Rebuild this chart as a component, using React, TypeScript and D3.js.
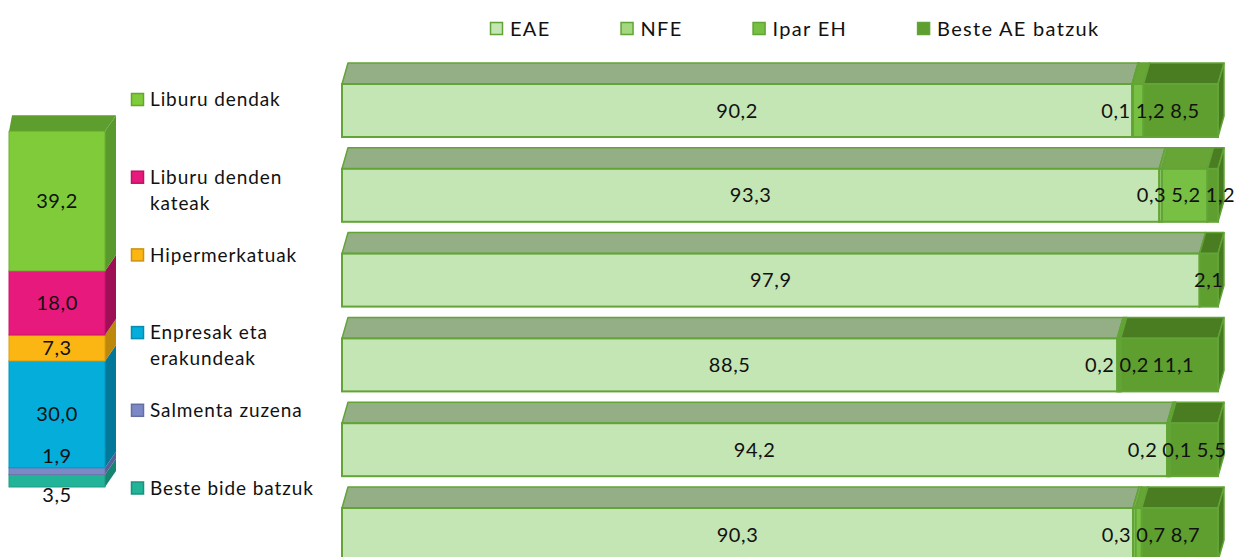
import { useEffect, useRef } from 'react';
import * as d3 from 'd3';

// right chart: share by origin, one 3D bar per row
const origins = ['EAE', 'NFE', 'Ipar EH', 'Beste AE batzuk'];
const rowIds = ['r1', 'r2', 'r3', 'r4', 'r5', 'r6'];
const eae = [90.2, 93.3, 97.9, 88.5, 94.2, 90.3];
const nfe = [0.1, 0.3, 0, 0.2, 0.2, 0.3];
const iparEh = [1.2, 5.2, 0, 0.2, 0.1, 0.7];
const besteAe = [8.5, 1.2, 2.1, 11.1, 5.5, 8.7];

// left chart: sales channels, one stacked column
const channels = ['Liburu dendak', 'Liburu denden kateak', 'Hipermerkatuak', 'Enpresak eta erakundeak', 'Salmenta zuzena', 'Beste bide batzuk'];
const channelShares = [39.2, 18.0, 7.3, 30.0, 1.9, 3.5];

const FONT = 'Lato, "Open Sans", sans-serif';

const originFront = ['#C4E5B4', '#A3D881', '#77C043', '#5E9F2F'];
const originTop = ['#94AE86', '#80AA63', '#66A536', '#4A7D22'];
const originSide = ['#819C73', '#6F9B52', '#5C9431', '#477A20'];
const originStroke = '#62A436';

const channelFront = ['#7FCB3A', '#E8197C', '#FBB614', '#05ADDB', '#7C89C6', '#22B499'];
const channelTop = ['#5E9E2E', '#A8105A', '#C48D0A', '#047A9B', '#56609A', '#168873'];
const channelSide = ['#5A9A2C', '#9E0F55', '#BE880A', '#03789A', '#555F98', '#168470'];

const fmt = (v: number) => v.toFixed(1).replace('.', ',');

// push overlapping labels apart along one axis
function spread(items: { pos: number; size: number }[], gap: number) {
  for (let k = 0; k < 60; k++) {
    let moved = false;
    for (let i = 0; i < items.length - 1; i++) {
      const a = items[i];
      const b = items[i + 1];
      const need = (a.size + b.size) / 2 + gap;
      const d = b.pos - a.pos;
      if (d < need - 0.01) {
        const s = (need - d) / 2;
        a.pos -= s;
        b.pos += s;
        moved = true;
      }
    }
    if (!moved) break;
  }
}

function wrap(label: string, maxChars: number) {
  const words = label.split(' ');
  const lines: string[] = [];
  let cur = '';
  words.forEach((w) => {
    const next = cur ? cur + ' ' + w : w;
    if (next.length > maxChars && cur) {
      lines.push(cur);
      cur = w;
    } else cur = next;
  });
  if (cur) lines.push(cur);
  return lines;
}

export default function App() {
  const svgRef = useRef<SVGSVGElement>(null);

  useEffect(() => {
    const width = 1242;
    const height = 557;
    const svg = d3.select(svgRef.current);
    svg.selectAll('*').remove();
    svg.attr('width', width).attr('height', height).style('font-family', FONT);

    // ---------- right: horizontal 3D stacked bars ----------
    const series = [eae, nfe, iparEh, besteAe];
    const x = d3.scaleLinear().domain([0, 100]).range([342, 1218]);
    const y = d3.scaleBand().domain(rowIds).range([84, 561]).paddingInner(0.375);
    const dx = 6;
    const dy = -21;
    const bars = svg.append('g');

    rowIds.forEach((id, r) => {
      const y0 = y(id) as number;
      const y1 = y0 + y.bandwidth();
      let acc = 0;
      const labels: { pos: number; size: number; text: string }[] = [];
      series.forEach((s, i) => {
        const v = s[r];
        const a = x(acc);
        const b = x(acc + v);
        acc += v;
        if (v <= 0) return;
        const g = bars.append('g');
        g.append('path')
          .attr('d', `M${a},${y0}L${a + dx},${y0 + dy}L${b + dx},${y0 + dy}L${b},${y0}Z`)
          .attr('fill', originTop[i])
          .attr('stroke', originStroke)
          .attr('stroke-width', 1.5)
          .attr('stroke-linejoin', 'round');
        g.append('path')
          .attr('d', `M${b},${y0}L${b + dx},${y0 + dy}L${b + dx},${y1 + dy}L${b},${y1}Z`)
          .attr('fill', originSide[i])
          .attr('stroke', originStroke)
          .attr('stroke-width', 1.5)
          .attr('stroke-linejoin', 'round');
        g.append('rect')
          .attr('x', a)
          .attr('y', y0)
          .attr('width', b - a)
          .attr('height', y1 - y0)
          .attr('fill', originFront[i])
          .attr('stroke', originStroke)
          .attr('stroke-width', 2);
        const text = fmt(v);
        labels.push({ pos: (a + b) / 2, size: text.length * 9.5, text });
      });
      spread(labels, 6);
      labels.forEach((l) => {
        bars.append('text')
          .attr('x', l.pos)
          .attr('y', (y0 + y1) / 2)
          .attr('dy', '0.35em')
          .attr('text-anchor', 'middle')
          .attr('font-size', 20)
          .attr('letter-spacing', 0.6)
          .attr('fill', '#111')
          .text(l.text);
      });
    });

    // ---------- top legend ----------
    const legend = svg.append('g');
    let lx = 490;
    origins.forEach((name, i) => {
      legend.append('rect')
        .attr('x', lx + 0.5)
        .attr('y', 22.5)
        .attr('width', 12)
        .attr('height', 12)
        .attr('fill', originFront[i])
        .attr('stroke', originStroke)
        .attr('stroke-width', 1.5);
      const t = legend.append('text')
        .attr('x', lx + 20)
        .attr('y', 28.5)
        .attr('dy', '0.35em')
        .attr('font-size', 20)
        .attr('letter-spacing', 1.3)
        .attr('fill', '#111')
        .text(name);
      const w = (t.node() as SVGTextElement).getComputedTextLength();
      lx += 20 + w + 70;
    });

    // ---------- left: stacked 3D column ----------
    const yc = d3.scaleLinear().domain([0, 100]).range([487, 131]);
    const cx0 = 9;
    const cx1 = 105;
    const dxL = 3;
    const dxR = 11;
    const dyc = -16;
    const col = svg.append('g');
    // stack from the bottom: last channel sits at the base
    const order = d3.range(channels.length).reverse();
    let base = 0;
    const colLabels: { pos: number; size: number; text: string }[] = [];
    order.forEach((i, k) => {
      const v = channelShares[i];
      const yb = yc(base);
      const yt = yc(base + v);
      base += v;
      col.append('path')
        .attr('d', `M${cx1},${yt}L${cx1 + dxR},${yt + dyc}L${cx1 + dxR},${yb + dyc}L${cx1},${yb}Z`)
        .attr('fill', channelSide[i]);
      if (k === order.length - 1) {
        col.append('path')
          .attr('d', `M${cx0},${yt}L${cx0 + dxL},${yt + dyc}L${cx1 + dxR},${yt + dyc}L${cx1},${yt}Z`)
          .attr('fill', channelTop[i]);
      }
      col.append('rect')
        .attr('x', cx0)
        .attr('y', yt)
        .attr('width', cx1 - cx0)
        .attr('height', yb - yt)
        .attr('fill', channelFront[i])
        .attr('stroke', d3.color(channelFront[i])!.darker(0.4).formatHex())
        .attr('stroke-width', 1);
      colLabels.push({ pos: (yt + yb) / 2, size: 20, text: fmt(v) });
    });
    colLabels.reverse();
    spread(colLabels, 19);
    colLabels.forEach((l) => {
      col.append('text')
        .attr('x', (cx0 + cx1) / 2)
        .attr('y', l.pos)
        .attr('dy', '0.35em')
        .attr('text-anchor', 'middle')
        .attr('font-size', 20)
        .attr('letter-spacing', 0.6)
        .attr('fill', '#111')
        .text(l.text);
    });

    // ---------- left legend ----------
    const ly = d3.scalePoint().domain(channels).range([99.5, 488]);
    const cleg = svg.append('g');
    channels.forEach((name, i) => {
      const yy = ly(name) as number;
      cleg.append('rect')
        .attr('x', 131.5)
        .attr('y', yy - 6)
        .attr('width', 12)
        .attr('height', 12)
        .attr('fill', channelFront[i])
        .attr('stroke', d3.color(channelFront[i])!.darker(0.6).formatHex())
        .attr('stroke-width', 1.5);
      const t = cleg.append('text')
        .attr('x', 150)
        .attr('y', yy)
        .attr('font-size', 19)
        .attr('letter-spacing', 0.9)
        .attr('fill', '#111');
      wrap(name, 18).forEach((line, j) => {
        t.append('tspan').attr('x', 150).attr('dy', j === 0 ? '0.35em' : '1.35em').text(line);
      });
    });
  }, []);

  return <svg ref={svgRef} style={{ position: 'absolute', left: 0, top: 0, display: 'block' }} />;
}
